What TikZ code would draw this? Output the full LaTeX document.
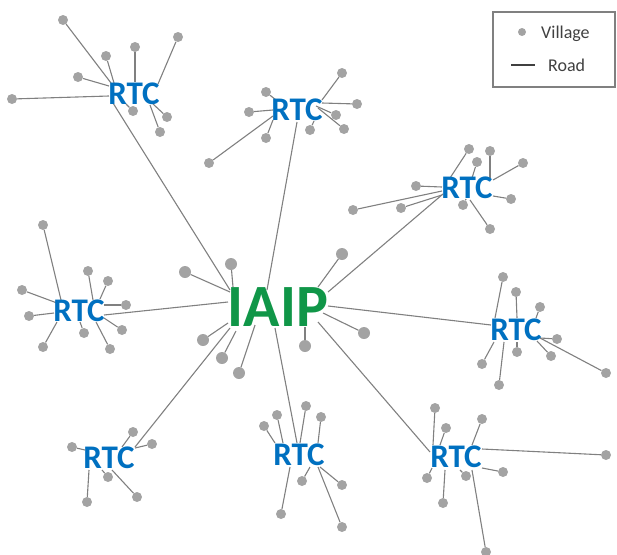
\documentclass[tikz,border=0pt]{standalone}
\usepackage{fontspec}
\setmainfont{Carlito}
\definecolor{rtcblue}{RGB}{0,112,192}
\definecolor{iaipgreen}{RGB}{16,150,72}
\definecolor{roadgray}{RGB}{128,128,128}
\definecolor{dotgray}{RGB}{163,163,163}
\definecolor{legtext}{RGB}{64,64,64}
\tikzset{
  vil/.style={circle,fill=dotgray,inner sep=0pt,minimum size=10pt},
  bigvil/.style={circle,fill=dotgray,inner sep=0pt,minimum size=12pt},
  road/.style={draw=roadgray,line width=1.1pt},
  rtc/.style={text=rtcblue,font=\bfseries\fontsize{33}{33}\selectfont,inner sep=0pt},
  iaip/.style={text=iaipgreen,font=\bfseries\fontsize{60}{60}\selectfont,inner sep=0pt},
  legbox/.style={draw=roadgray,line width=1.3pt},
  legtxt/.style={text=legtext,font=\fontsize{18}{18}\selectfont,inner sep=0pt}
}
\begin{document}
\begin{tikzpicture}[x=1pt,y=-1pt]
\useasboundingbox (0,0) rectangle (617,554);
% villages and their roads to the RTCs / IAIP
\foreach \n/\p/\h/\s in {
  a1/{63,20}/{111,83}/vil, a2/{106,56}/{114,83}/vil, a3/{78,77}/{109,86}/vil,
  a4/{135,47}/{135,82}/vil, a5/{178,37}/{158,84}/vil, a6/{12,99}/{109,96}/vil,
  a7/{133,111}/{126,104}/vil, a8/{167,117}/{153,104}/vil, a9/{160,132}/{150,105}/vil,
  b1/{342,73}/{322,100}/vil, b2/{357,104}/{322,103}/vil, b3/{336,115}/{316,106}/vil,
  b4/{344,129}/{318,108}/vil, b5/{310,130}/{314,121}/vil, b6/{266,92}/{276,100}/vil,
  b7/{249,112}/{273,110}/vil, b8/{266,138}/{273,120}/vil, b9/{209,163}/{273,116}/vil,
  c1/{469,149}/{450,178}/vil, c2/{490,151}/{490,178}/vil, c3/{477,162}/{472,178}/vil,
  c4/{523,163}/{493,180}/vil, c5/{416,186}/{442,187}/vil, c6/{353,210}/{442,191}/vil,
  c7/{401,208}/{442,195}/vil, c8/{463,205}/{466,199}/vil, c9/{511,199}/{493,196}/vil,
  c10/{490,229}/{470,200}/vil,
  d1/{43,225}/{61,300}/vil, d2/{22,290}/{57,303}/vil, d3/{29,316}/{54,313}/vil,
  d4/{43,347}/{57,322}/vil, d5/{88,271}/{93,300}/vil, d6/{108,281}/{100,299}/vil,
  d7/{126,305}/{104,305}/vil, d8/{122,330}/{104,318}/vil, d9/{110,349}/{96,322}/vil,
  d10/{84,333}/{80,322}/vil,
  e1/{503,277}/{495,318}/vil, e2/{516,292}/{517,318}/vil, e3/{540,307}/{536,318}/vil,
  e4/{557,339}/{540,338}/vil, e5/{551,356}/{537,341}/vil, e6/{606,373}/{540,338}/vil,
  e7/{517,352}/{517,342}/vil, e8/{482,364}/{494,342}/vil, e9/{499,385}/{504,342}/vil,
  f1/{72,447}/{85,450}/vil, f2/{133,432}/{122,447}/vil, f3/{152,444}/{135,448}/vil,
  f4/{108,477}/{102,470}/vil, f5/{87,502}/{89,470}/vil, f6/{137,497}/{112,470}/vil,
  g1/{264,426}/{275,443}/vil, g2/{277,415}/{283,443}/vil, g3/{306,406}/{300,443}/vil,
  g4/{321,417}/{318,443}/vil, g5/{302,481}/{310,467}/vil, g6/{342,485}/{320,467}/vil,
  g7/{342,527}/{318,467}/vil, g8/{281,514}/{290,467}/vil,
  h1/{435,408}/{433,445}/vil, h2/{446,428}/{440,445}/vil, h3/{482,419}/{472,445}/vil,
  h4/{606,455}/{482,449}/vil, h5/{503,472}/{482,468}/vil, h6/{466,476}/{460,470}/vil,
  h7/{427,478}/{432,468}/vil, h8/{443,503}/{445,470}/vil, h9/{486,552}/{472,470}/vil,
  i1/{185,272}/{230,292}/bigvil, i2/{231,264}/{233,287}/bigvil, i3/{342,254}/{318,287}/bigvil,
  i4/{364,333}/{323,313}/bigvil, i5/{305,346}/{305,327}/bigvil, i6/{203,340}/{228,323}/bigvil,
  i7/{222,358}/{236,331}/bigvil, i8/{239,373}/{255,325}/bigvil}
{
  \node[\s] (\n) at (\p) {};
  \coordinate (h\n) at (\h);
  \draw[road] (\n) -- (h\n);
}
% trunk roads RTC -> IAIP
\foreach \n/\a/\b in {
  t1/{113,103}/{230,290}, t2/{297,122}/{267,290}, t3/{443,194}/{328,292},
  t4/{104,315}/{228,302}, t5/{491,325}/{328,306}, t6/{135,447}/{230,328},
  t7/{297,443}/{275,328}, t8/{430,452}/{318,322}}
{
  \coordinate (\n s) at (\a);
  \coordinate (\n e) at (\b);
  \draw[road] (\n s) -- (\n e);
}
% labels
\node[rtc] (rtc1) at (134,94) {RTC};
\node[rtc] (rtc2) at (297,110) {RTC};
\node[rtc] (rtc3) at (467,188) {RTC};
\node[rtc] (rtc4) at (79,311) {RTC};
\node[rtc] (rtc5) at (516,330) {RTC};
\node[rtc] (rtc6) at (109,458) {RTC};
\node[rtc] (rtc7) at (299,455) {RTC};
\node[rtc] (rtc8) at (456,457) {RTC};
\node[iaip] (iaip) at (278,307) {IAIP};
% legend
\node[legbox,minimum width=122pt,minimum height=75pt,inner sep=0pt] (leg) at (554,49.5) {};
\node[circle,fill=dotgray,inner sep=0pt,minimum size=8pt] (legdot) at (522,32) {};
\node[legtxt,anchor=base west] (legv) at (541,38) {Village};
\coordinate (lr1) at (511,65);
\coordinate (lr2) at (535,65);
\draw[draw=legtext,line width=1.5pt] (lr1) -- (lr2);
\node[legtxt,anchor=base west] (legr) at (548,71) {Road};
\end{tikzpicture}
\end{document}
